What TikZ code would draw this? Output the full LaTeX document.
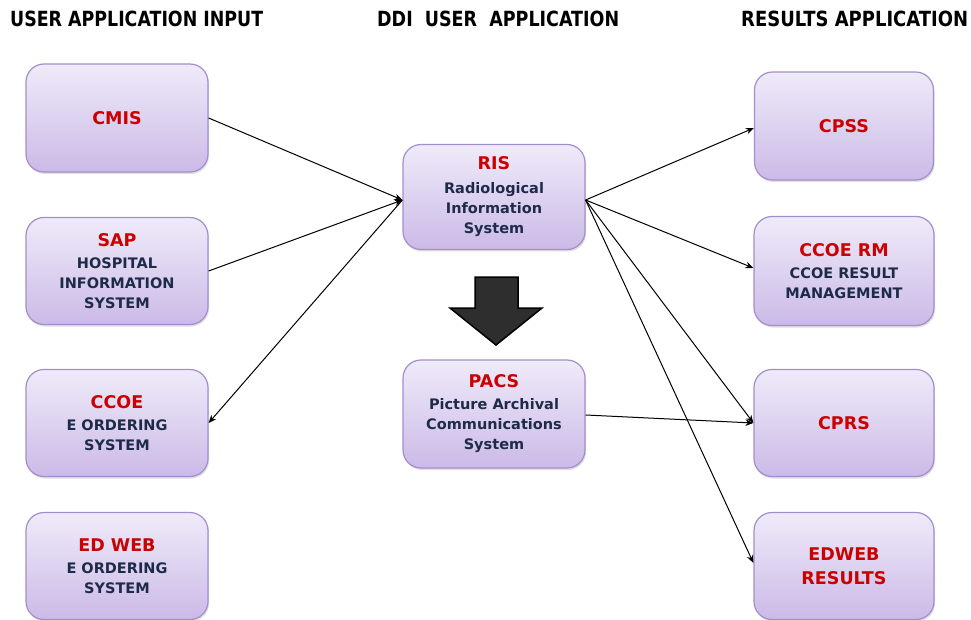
\documentclass[tikz,border=0pt]{standalone}
\usepackage{fontspec}
\usepackage{graphicx}
\setmainfont{DejaVu Sans}
\newfontfamily\hdfont{DejaVu Sans}
\usetikzlibrary{calc,shadows,arrows.meta}

\definecolor{boxtop}{HTML}{EFEBF9}
\definecolor{boxbot}{HTML}{CBBAE7}
\definecolor{boxline}{HTML}{A48ECF}
\definecolor{ttlred}{HTML}{CC0000}
\definecolor{subblue}{HTML}{1E2B48}
\definecolor{bigarrow}{HTML}{2E2E2E}

\tikzset{
 appbox/.style={draw=boxline, line width=1.2pt, rounded corners=18pt,
   top color=boxtop, bottom color=boxbot, minimum width=182pt, minimum height=107pt,
   align=center, inner sep=0pt,
   font=\fontsize{14.5}{20}\selectfont\bfseries\color{subblue},
   drop shadow={opacity=0.25, shadow xshift=1pt, shadow yshift=-2pt}},
 conn/.style={draw=black, line width=1pt, -{Stealth[length=8pt,width=6.5pt]}},
 hd/.style={anchor=base west, inner sep=0pt, font=\hdfont\bfseries},
}
\newcommand\redt[1]{\textcolor{ttlred}{\fontsize{17.5}{20}\selectfont #1}}

\begin{document}
\begin{tikzpicture}[x=1pt,y=-1pt]
\useasboundingbox[fill=white] (0,0) rectangle (971,620);

% headers
\node[hd] (h1) at (10,27) {\resizebox{253pt}{15.5pt}{USER APPLICATION INPUT}};
\node[hd] (h2) at (377,27) {\resizebox{242pt}{15.5pt}{DDI\ \ USER\ \ APPLICATION}};
\node[hd] (h3) at (741,27) {\resizebox{227pt}{15.5pt}{RESULTS APPLICATION}};

% left column
\node[appbox, minimum height=108pt] (cmis) at (117,118) {\redt{CMIS}};
\node[appbox] (sap) at (117,271) {\redt{SAP}\\[2pt]HOSPITAL\\INFORMATION\\SYSTEM};
\node[appbox] (ccoe) at (117,423) {\redt{CCOE}\\[2pt]E ORDERING\\SYSTEM};
\node[appbox] (edweb) at (117,566) {\redt{ED WEB}\\[2pt]E ORDERING\\SYSTEM};

% middle column
\node[appbox, minimum height=105pt] (ris) at (494,197) {\redt{RIS}\\[4pt]Radiological\\Information\\System};
\node[appbox, minimum height=108pt] (pacs) at (494,414) {\redt{PACS}\\[2pt]Picture Archival\\Communications\\System};

% right column
\node[appbox, minimum width=179pt, minimum height=108pt] (cpss) at (844,126) {\redt{CPSS}};
\node[appbox, minimum width=180pt, minimum height=109pt] (ccoerm) at (844,271) {\redt{CCOE RM}\\[2pt]CCOE RESULT\\MANAGEMENT};
\node[appbox, minimum width=180pt] (cprs) at (844,423) {\redt{CPRS}};
\node[appbox, minimum width=180pt] (edwebr) at (844,566) {\redt{EDWEB}\\[4pt]\redt{RESULTS}};

% big down arrow
\draw[fill=bigarrow, draw=black, line width=1.5pt, line join=miter]
  (475,277) -- (518,277) -- (518,308) -- (542,308) -- (496,345) -- (450,308) -- (475,308) -- cycle;

% connectors
\coordinate (risL) at ($(ris.west)+(0,3)$);
\coordinate (risR) at ($(ris.east)+(0,3)$);
\draw[conn] (cmis.east) -- (risL);
\draw[conn] (sap.east) -- (risL);
\draw[conn] (risL) -- (ccoe.east);
\draw[conn] (risR) -- ($(cpss.west)+(0,2)$);
\draw[conn] (risR) -- ($(ccoerm.west)+(0,-3)$);
\draw[conn] (risR) -- (cprs.west);
\draw[conn] (risR) -- ($(edwebr.west)+(0,-3)$);
\draw[conn] ($(pacs.east)+(0,1)$) -- (cprs.west);
\end{tikzpicture}
\end{document}
